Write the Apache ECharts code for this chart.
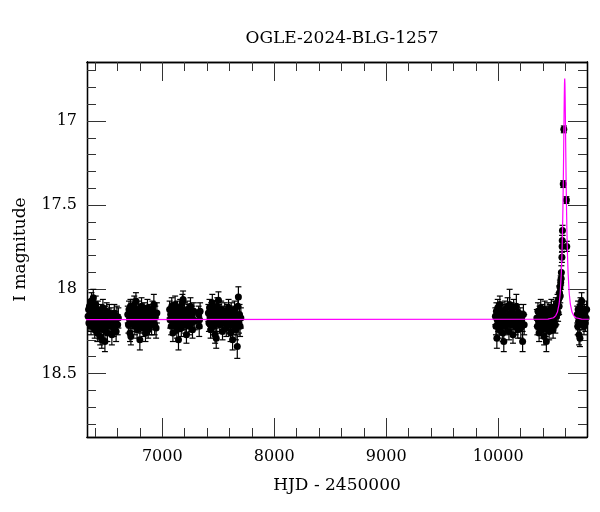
<!DOCTYPE html>
<html>
<head>
<meta charset="utf-8">
<script src="https://cdn.jsdelivr.net/npm/echarts@6/dist/echarts.min.js"></script>
<style>html,body{margin:0;padding:0;background:#fff}#c{width:600px;height:512px}</style>
</head>
<body>
<div id="c"></div>
<script>
// [HJD-2450000, I mag, error]
const season1 = [[6338,18.16,.05],[6342,18.12,.05],[6345,18.20,.05],[6350,18.10,.04],[6355,18.18,.05],[6360,18.14,.04],[6364,18.22,.05],[6368,18.07,.05],[6372,18.15,.04],[6378,18.11,.04],[6384,18.05,.05],[6388,18.19,.05],[6392,18.13,.04],[6397,18.24,.05],[6402,18.17,.04],[6406,18.09,.05],[6410,18.21,.05],[6415,18.15,.04],[6420,18.26,.05],[6425,18.12,.05],[6430,18.19,.04],[6436,18.16,.05],[6441,18.23,.05],[6446,18.28,.05],[6450,18.14,.05],[6455,18.20,.05],[6460,18.30,.05],[6465,18.17,.05],[6470,18.11,.05],[6476,18.24,.05],[6482,18.19,.05],[6488,18.31,.06],[6493,18.15,.05],[6498,18.21,.05],[6504,18.13,.05],[6510,18.26,.05],[6516,18.18,.05],[6522,18.22,.05],[6528,18.14,.05],[6535,18.20,.05],[6542,18.16,.05],[6550,18.27,.06],[6558,18.18,.05],[6565,18.23,.05],[6572,18.14,.05],[6580,18.19,.06],[6588,18.25,.06],[6595,18.16,.06],[6602,18.21,.06],[6608,18.17,.06]];
const season2 = [[6692,18.15,.05],[6698,18.21,.05],[6703,18.12,.05],[6708,18.18,.05],[6712,18.26,.05],[6716,18.10,.04],[6720,18.28,.05],[6725,18.14,.05],[6730,18.20,.05],[6735,18.17,.05],[6740,18.11,.05],[6745,18.16,.04],[6750,18.09,.05],[6755,18.22,.05],[6760,18.13,.05],[6765,18.07,.05],[6770,18.18,.05],[6775,18.24,.05],[6780,18.15,.05],[6785,18.20,.05],[6790,18.12,.05],[6795,18.17,.05],[6800,18.30,.06],[6805,18.14,.05],[6810,18.21,.05],[6815,18.10,.05],[6820,18.19,.05],[6826,18.16,.05],[6832,18.23,.05],[6838,18.13,.05],[6844,18.18,.05],[6850,18.26,.05],[6856,18.15,.05],[6862,18.20,.05],[6868,18.11,.05],[6874,18.24,.05],[6880,18.17,.05],[6886,18.22,.05],[6892,18.14,.05],[6898,18.19,.05],[6905,18.21,.06],[6912,18.12,.05],[6918,18.18,.05],[6925,18.09,.06],[6932,18.21,.06],[6938,18.16,.06],[6945,18.23,.06],[6952,18.14,.06]];
const season3 = [[7066,18.12,.05],[7070,18.18,.05],[7075,18.15,.04],[7080,18.22,.05],[7085,18.10,.05],[7090,18.17,.04],[7095,18.26,.05],[7100,18.13,.05],[7105,18.19,.04],[7110,18.15,.05],[7115,18.09,.05],[7120,18.21,.05],[7125,18.16,.04],[7130,18.24,.05],[7135,18.12,.05],[7140,18.18,.05],[7145,18.30,.06],[7150,18.14,.05],[7155,18.20,.05],[7160,18.11,.05],[7165,18.17,.05],[7170,18.23,.05],[7175,18.15,.05],[7180,18.08,.05],[7186,18.06,.05],[7192,18.19,.05],[7198,18.13,.05],[7204,18.21,.05],[7210,18.16,.05],[7216,18.27,.05],[7222,18.12,.05],[7228,18.18,.05],[7234,18.14,.05],[7240,18.22,.05],[7246,18.17,.05],[7252,18.10,.05],[7258,18.20,.05],[7264,18.15,.05],[7270,18.24,.05],[7276,18.18,.05],[7282,18.13,.05],[7290,18.19,.05],[7325,18.15,.05],[7330,18.22,.06],[7333,18.18,.05],[7338,18.13,.05]];
const season4 = [[7412,18.14,.05],[7417,18.20,.05],[7422,18.11,.05],[7427,18.17,.05],[7432,18.24,.05],[7437,18.13,.05],[7442,18.19,.05],[7447,18.08,.05],[7452,18.16,.05],[7457,18.22,.05],[7462,18.12,.05],[7467,18.18,.05],[7472,18.27,.05],[7477,18.15,.05],[7482,18.29,.06],[7487,18.20,.05],[7492,18.10,.05],[7497,18.17,.05],[7502,18.065,.05],[7508,18.14,.05],[7514,18.21,.05],[7520,18.16,.05],[7526,18.12,.05],[7532,18.19,.05],[7538,18.25,.05],[7545,18.15,.05],[7552,18.20,.05],[7558,18.13,.05],[7565,18.18,.05],[7572,18.23,.05],[7580,18.14,.05],[7586,18.17,.05],[7592,18.11,.05],[7598,18.21,.05],[7604,18.16,.05],[7610,18.26,.05],[7616,18.13,.05],[7622,18.19,.05],[7628,18.30,.06],[7634,18.15,.05],[7640,18.22,.05],[7646,18.12,.05],[7652,18.18,.05],[7658,18.24,.06],[7664,18.16,.05],[7670,18.34,.07],[7676,18.10,.06],[7680,18.045,.06],[7685,18.20,.06],[7690,18.15,.06],[7695,18.22,.06],[7702,18.17,.06]];
const season5 = [[9975,18.16,.05],[9980,18.22,.05],[9984,18.13,.05],[9988,18.29,.06],[9992,18.18,.05],[9996,18.11,.05],[10000,18.20,.05],[10005,18.15,.05],[10010,18.24,.05],[10015,18.09,.05],[10020,18.17,.05],[10025,18.21,.05],[10030,18.13,.05],[10035,18.19,.05],[10040,18.26,.05],[10045,18.14,.05],[10050,18.31,.06],[10055,18.18,.05],[10060,18.12,.05],[10066,18.22,.05],[10072,18.16,.05],[10078,18.20,.05],[10084,18.10,.05],[10090,18.17,.05],[10096,18.25,.05],[10102,18.09,.09],[10108,18.15,.05],[10114,18.21,.05],[10120,18.13,.05],[10126,18.18,.05],[10132,18.27,.05],[10138,18.11,.05],[10144,18.19,.05],[10150,18.15,.05],[10156,18.22,.05],[10162,18.10,.07],[10168,18.17,.05],[10175,18.24,.05],[10182,18.14,.05],[10188,18.20,.05],[10195,18.16,.05],[10202,18.23,.06],[10210,18.18,.05],[10218,18.31,.06],[10225,18.15,.06],[10232,18.21,.06]];
const season6 = [[10345,18.17,.05],[10350,18.22,.05],[10355,18.13,.05],[10360,18.19,.05],[10365,18.26,.05],[10370,18.15,.05],[10375,18.20,.05],[10380,18.11,.05],[10385,18.18,.05],[10390,18.24,.05],[10395,18.14,.05],[10400,18.21,.05],[10405,18.16,.05],[10410,18.28,.05],[10415,18.12,.05],[10420,18.19,.05],[10425,18.23,.05],[10430,18.31,.06],[10435,18.15,.05],[10440,18.20,.05],[10445,18.13,.05],[10450,18.18,.05],[10455,18.25,.05],[10460,18.14,.05],[10465,18.21,.05],[10470,18.17,.05],[10475,18.11,.05],[10480,18.20,.05],[10485,18.15,.05],[10490,18.24,.05],[10495,18.12,.05],[10500,18.18,.05],[10505,18.14,.05],[10510,18.21,.05],[10515,18.10,.05],[10520,18.16,.05],[10525,18.12,.05],[10530,18.08,.05],[10535,18.14,.05],[10540,18.06,.04],[10544,18.10,.05],[10547,18.02,.04],[10551,17.985,.04],[10554,18.04,.04],[10558,17.96,.04],[10562,17.935,.04],[10564,17.90,.04],[10569,17.81,.03],[10571,17.745,.03],[10572,17.71,.03],[10574,17.65,.03],[10581,17.375,.02],[10586,17.05,.02],[10609,17.47,.02],[10612,17.745,.03]];
const season7 = [[10706,18.15,.05],[10710,18.22,.05],[10714,18.12,.05],[10718,18.19,.05],[10722,18.27,.06],[10726,18.14,.05],[10730,18.29,.05],[10735,18.10,.05],[10740,18.17,.05],[10745,18.07,.05],[10750,18.13,.05],[10755,18.19,.05],[10760,18.16,.05],[10766,18.22,.05],[10772,18.14,.05],[10778,18.20,.05],[10785,18.17,.05],[10790,18.12,.05]];
// model curve [HJD-2450000, I mag]
const modelCurve = [[6000,18.18],[10444,18.177],[10494,18.169],[10514,18.156],[10529,18.135],[10544,18.087],[10554,18.022],[10564,17.899],[10569,17.80],[10574,17.662],[10578,17.515],[10581,17.378],[10584,17.216],[10586,17.097],[10588,16.975],[10590,16.862],[10592,16.779],[10594,16.748],[10596,16.779],[10598,16.862],[10600,16.975],[10602,17.097],[10604,17.216],[10607,17.378],[10610,17.515],[10614,17.662],[10619,17.80],[10624,17.899],[10634,18.022],[10644,18.087],[10659,18.135],[10674,18.156],[10694,18.169],[10744,18.177],[11000,18.18]];
const xMajor = [7000,8000,9000,10000];
const xMinor = [6400,6600,6800,7200,7400,7600,7800,8200,8400,8600,8800,9200,9400,9600,9800,10200,10400,10600];
const yMajor = [17,17.5,18,18.5];
const yMinor = [16.7,16.8,16.9,17.1,17.2,17.3,17.4,17.6,17.7,17.8,17.9,18.1,18.2,18.3,18.4,18.6,18.7,18.8];
const titleText = 'OGLE-2024-BLG-1257';
const xName = 'HJD - 2450000';
const yName = 'I magnitude';

const points = [].concat(season1, season2, season3, season4, season5, season6, season7);
const FONT = 'DejaVu Serif';
const XMIN = 6328, XMAX = 10793, YMIN = 16.65, YMAX = 18.877;
const tickStyle = {color:'#333', width:1};

function xAx(pos, vals, len, extra) {
  return Object.assign({
    type:'value', position:pos, min:XMIN, max:XMAX,
    axisLine:{show:true, lineStyle:{color:'#000', width:1.3}},
    axisTick:{show:true, inside:true, length:len, customValues:vals, lineStyle:tickStyle},
    axisLabel:{show:false}, splitLine:{show:false}
  }, extra||{});
}
function yAx(pos, vals, len, extra) {
  return Object.assign({
    type:'value', position:pos, min:YMIN, max:YMAX, inverse:true,
    axisLine:{show:true, lineStyle:{color:'#000', width:1.3}},
    axisTick:{show:true, inside:true, length:len, customValues:vals, lineStyle:tickStyle},
    axisLabel:{show:false}, splitLine:{show:false}
  }, extra||{});
}

const chart = echarts.init(document.getElementById('c'), null, {renderer:'canvas'});
chart.setOption({
  animation:false,
  backgroundColor:'#fff',
  title:{text:titleText, left:337, top:25, textAlign:'center',
    textStyle:{fontFamily:FONT, fontSize:17, fontWeight:'normal', color:'#000'}},
  grid:{left:87, right:13, top:62, bottom:75},
  xAxis:[
    xAx('bottom', xMajor, 19, {
      axisLabel:{show:true, customValues:xMajor, margin:12, fontFamily:FONT, fontSize:16, color:'#000',
        formatter:function(v){ return String(v); }},
      name:xName, nameLocation:'middle', nameGap:40,
      nameTextStyle:{fontFamily:FONT, fontSize:17, color:'#000'}
    }),
    xAx('bottom', xMinor, 9),
    xAx('top', xMajor, 19),
    xAx('top', xMinor, 9)
  ],
  yAxis:[
    yAx('left', yMajor, 19, {
      axisLabel:{show:true, customValues:yMajor, margin:10, fontFamily:FONT, fontSize:16, color:'#000',
        formatter:function(v){ return String(v); }},
      name:yName, nameLocation:'middle', nameGap:58, nameRotate:90,
      nameTextStyle:{fontFamily:FONT, fontSize:17, color:'#000'}
    }),
    yAx('left', yMinor, 9),
    yAx('right', yMajor, 19),
    yAx('right', yMinor, 9)
  ],
  series:[
    {
      type:'custom', xAxisIndex:0, yAxisIndex:0, clip:true, z:2,
      data:points,
      encode:{x:0, y:1},
      renderItem:function(params, api){
        const t = api.value(0), m = api.value(1), e = api.value(2);
        const a = api.coord([t, m - e]);
        const b = api.coord([t, m + e]);
        const st = {stroke:'#000', lineWidth:1.2};
        return {type:'group', children:[
          {type:'line', shape:{x1:a[0], y1:a[1], x2:b[0], y2:b[1]}, style:st},
          {type:'line', shape:{x1:a[0]-3, y1:a[1], x2:a[0]+3, y2:a[1]}, style:st},
          {type:'line', shape:{x1:b[0]-3, y1:b[1], x2:b[0]+3, y2:b[1]}, style:st}
        ]};
      }
    },
    {
      type:'scatter', xAxisIndex:0, yAxisIndex:0, clip:true, z:3,
      data:points.map(p => [p[0], p[1]]),
      symbol:'circle', symbolSize:7,
      itemStyle:{color:'#000', opacity:1}
    },
    {
      type:'line', xAxisIndex:0, yAxisIndex:0, clip:true, z:4,
      data:modelCurve, showSymbol:false, symbol:'none',
      lineStyle:{color:'#ff00ff', width:1.2}
    }
  ]
});
</script>
</body>
</html>
